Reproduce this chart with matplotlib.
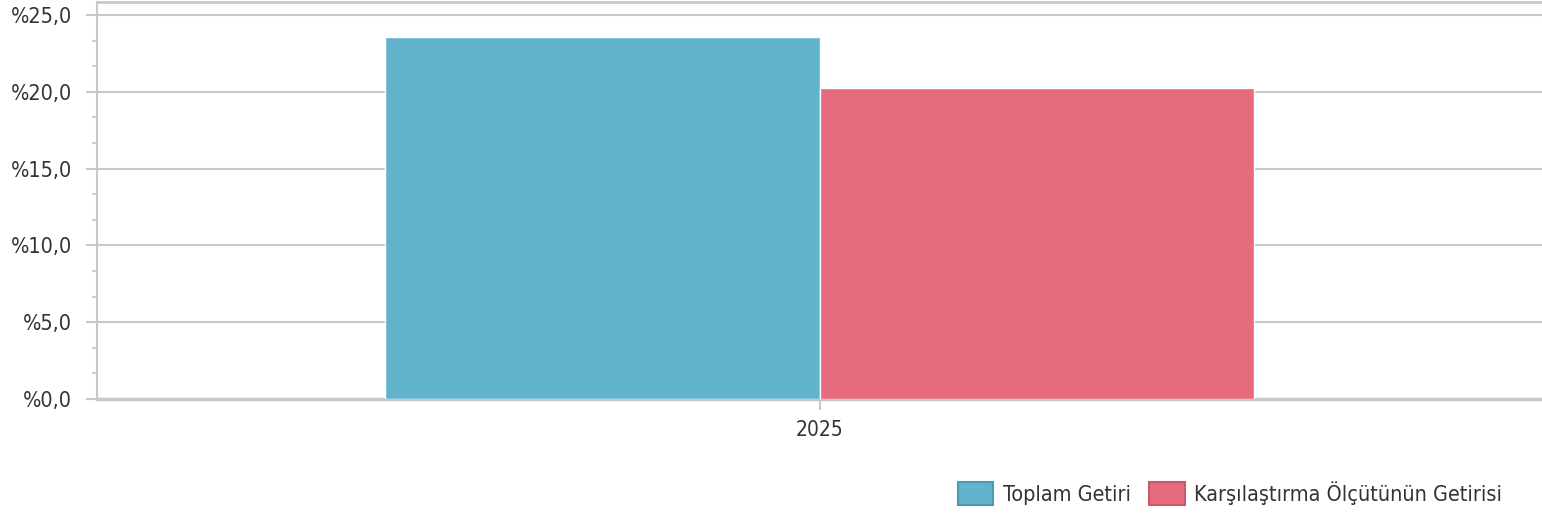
import matplotlib.pyplot as plt
from matplotlib.ticker import FuncFormatter, MultipleLocator

# Data
years = ['2025']
toplam_getiri = [23.55]
karsilastirma = [20.25]
series_names = ['Toplam Getiri', 'Karşılaştırma Ölçütünün Getirisi']

blue = '#62b3cc'
red = '#e66b7c'
grid_grey = '#c8c8c8'
text_col = '#333333'

plt.rcParams['font.family'] = ['DejaVu Sans']
plt.rcParams['font.stretch'] = 'condensed'

fig = plt.figure(figsize=(15.42, 5.14), dpi=100)
ax = fig.add_axes([97 / 1542, 1 - 399 / 514, 1 - 97 / 1542, 397 / 514])

w = 0.301
x = range(len(years))
b1 = ax.bar([i - w / 2 for i in x], toplam_getiri, width=w, color=blue,
            edgecolor='white', linewidth=1, zorder=3)
b2 = ax.bar([i + w / 2 for i in x], karsilastirma, width=w, color=red,
            edgecolor='white', linewidth=1, zorder=3)

ax.set_xlim(-0.5, 0.5)
ax.set_ylim(0, 25.85)
ax.set_xticks(list(x))
ax.set_xticklabels(years)

ax.yaxis.set_major_locator(MultipleLocator(5))
ax.yaxis.set_minor_locator(MultipleLocator(5 / 3))
ax.yaxis.set_major_formatter(FuncFormatter(lambda v, p: '%' + f'{v:.1f}'.replace('.', ',')))
ax.grid(axis='y', which='major', color=grid_grey, linewidth=1.5, zorder=0)

ax.spines['right'].set_visible(False)
for side in ['left', 'top', 'bottom']:
    ax.spines[side].set_color(grid_grey)
ax.spines['left'].set_linewidth(1.5)
ax.spines['top'].set_linewidth(2)
ax.spines['bottom'].set_linewidth(2.5)

ax.tick_params(axis='y', which='major', length=8, width=1.5, color=grid_grey,
               pad=10, labelsize=15.5, labelcolor=text_col)
ax.tick_params(axis='y', which='minor', length=3.6, width=1.2, color=grid_grey)
ax.tick_params(axis='x', length=8, width=1.5, color=grid_grey, pad=7,
               labelsize=15, labelcolor=text_col)

leg = fig.legend([b1, b2], series_names, loc='center right',
                 bbox_to_anchor=(1513 / 1542, 1 - 493 / 514), ncol=2,
                 frameon=False, fontsize=15.5, borderpad=0,
                 handlelength=1.65, handleheight=1.3, handletextpad=0.45,
                 columnspacing=0.85)
for t in leg.get_texts():
    t.set_color(text_col)
for h, ec in zip(leg.legend_handles, ['#4c9ab0', '#c95a6a']):
    h.set_edgecolor(ec)
    h.set_linewidth(1.5)

fig.savefig('out.png', dpi=100)
